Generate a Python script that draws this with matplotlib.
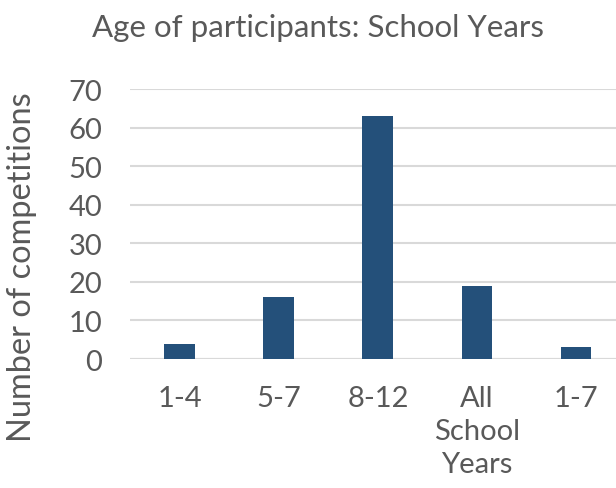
import numpy as np
import matplotlib.pyplot as plt

# Competitions by school year group
year_groups = ["1-4", "5-7", "8-12", "All\nSchool\nYears", "1-7"]
competitions = [4, 16, 63, 19, 3]

bar_colour = "#24507A"
text_colour = "#595959"
grid_colour = "#D9D9D9"

plt.rcParams["font.family"] = ["Lato", "DejaVu Sans"]

fig = plt.figure(figsize=(6.16, 4.89), dpi=100)
ax = fig.add_axes([0.211, 0.2638, 0.789, 0.552])

x = np.arange(len(year_groups))
ax.bar(x, competitions, width=0.313, color=bar_colour, zorder=3)

ax.set_ylim(0, 70)
ax.set_yticks(np.arange(0, 71, 10))
ax.set_xlim(-0.505, 4.404)
ax.set_xticks(x)
ax.set_xticklabels(year_groups, linespacing=1.32)

ax.yaxis.grid(True, color=grid_colour, linewidth=1.5, zorder=0)
for side in ["top", "right", "left", "bottom"]:
    ax.spines[side].set_visible(False)
ax.axhline(0, color=grid_colour, linewidth=1.5, zorder=2)

ax.tick_params(axis="both", length=0, labelsize=21, labelcolor=text_colour)
ax.tick_params(axis="y", pad=20)
ax.tick_params(axis="x", pad=19)

fig.text(0.036, 0.454, "Number of competitions", fontsize=23.4, color=text_colour,
         rotation=90, ha="center", va="center")
fig.text(0.517, 0.943, "Age of participants: School Years", fontsize=22.5,
         color=text_colour, ha="center", va="center")

fig.savefig("out.png", dpi=100)
